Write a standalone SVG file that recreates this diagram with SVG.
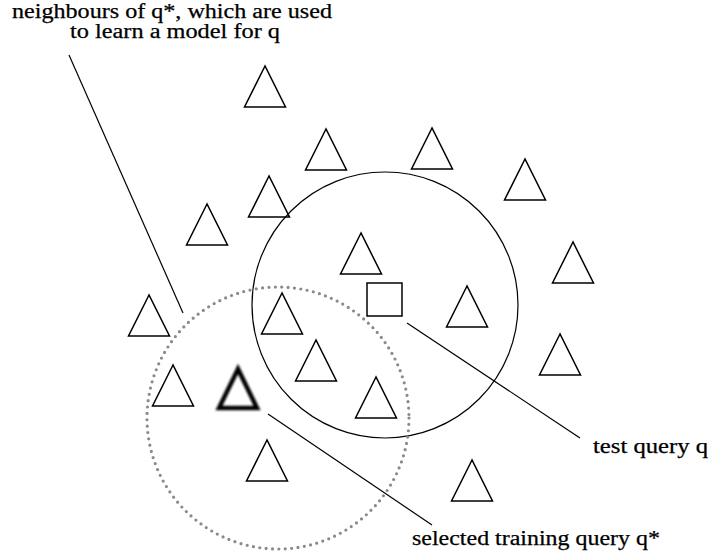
<svg xmlns="http://www.w3.org/2000/svg" width="709" height="559" viewBox="0 0 709 559">
<defs>
<style>
.tri{fill:none;stroke:#000;stroke-width:1.5;stroke-linejoin:miter}
.bold{fill:none;stroke:#000;stroke-width:4.5;filter:url(#blur)}
.ln{stroke:#000;stroke-width:1.2;fill:none}
.lbl{font-family:"Liberation Serif",serif;font-size:20px;fill:#000;stroke:#000;stroke-width:0.25}
</style>
<filter id="blur" x="-20%" y="-20%" width="140%" height="140%"><feGaussianBlur stdDeviation="0.9"/></filter>
<polygon id="t" points="0,0 -20.5,41 20.5,41"/>
</defs>
<rect width="709" height="559" fill="#fff"/>
<g id="connectors">
<circle id="test-circle" cx="385" cy="305" r="133" class="ln"/>
<circle id="neighbour-circle" cx="278" cy="418" r="131" fill="none" stroke="#8a8a8a" stroke-width="3.2" stroke-linecap="round" stroke-dasharray="0 6.4"/>
<line class="ln" x1="69" y1="55" x2="183" y2="313"/>
<line class="ln" x1="407" y1="323" x2="580" y2="438"/>
<line class="ln" x1="268" y1="414" x2="432" y2="525"/>
</g>
<g id="triangles">
<use href="#t" class="tri" x="265" y="66"/>
<use href="#t" class="tri" x="326" y="129"/>
<use href="#t" class="tri" x="269" y="176"/>
<use href="#t" class="tri" x="432" y="128"/>
<use href="#t" class="tri" x="525" y="159"/>
<use href="#t" class="tri" x="207" y="204"/>
<use href="#t" class="tri" x="361" y="233"/>
<use href="#t" class="tri" x="573" y="242"/>
<use href="#t" class="tri" x="149" y="295"/>
<use href="#t" class="tri" x="282" y="293"/>
<use href="#t" class="tri" x="467" y="286"/>
<use href="#t" class="tri" x="316" y="340"/>
<use href="#t" class="tri" x="173" y="365"/>
<use href="#t" class="tri" x="376" y="377"/>
<use href="#t" class="tri" x="560" y="334"/>
<use href="#t" class="tri" x="267" y="440"/>
<use href="#t" class="tri" x="472" y="460"/>
</g>
<g id="selected-training-query">
<polygon class="bold" points="238,369 219,408 257,408"/>
</g>
<g id="test-query">
<rect x="367" y="283" width="35" height="33" fill="none" stroke="#000" stroke-width="1.5"/>
</g>
<g id="labels">
<text class="lbl" x="12" y="18" textLength="320" lengthAdjust="spacingAndGlyphs">neighbours of q*, which are used</text>
<text class="lbl" x="70" y="38" textLength="210" lengthAdjust="spacingAndGlyphs">to learn a model for q</text>
<text class="lbl" x="593" y="453" textLength="115" lengthAdjust="spacingAndGlyphs">test query q</text>
<text class="lbl" x="412" y="545" textLength="248" lengthAdjust="spacingAndGlyphs">selected training query q*</text>
</g>
</svg>
